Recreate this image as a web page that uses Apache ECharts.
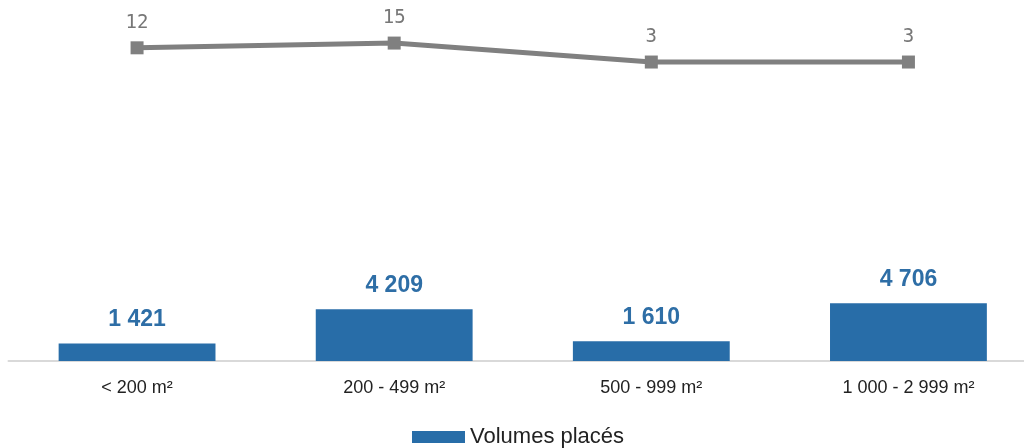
<!DOCTYPE html>
<html>
<head>
<meta charset="utf-8">
<script src="https://cdn.jsdelivr.net/npm/echarts@6/dist/echarts.min.js"></script>
<style>
  html, body { margin: 0; padding: 0; background: #fff; overflow: hidden; }
  #chart { width: 1037px; height: 448px; }
</style>
</head>
<body>
<div id="chart"></div>
<script>
const categories = ['< 200 m²', '200 - 499 m²', '500 - 999 m²', '1 000 - 2 999 m²']
const volumes = [1421, 4209, 1610, 4706]
const transactions = [12, 15, 3, 3]

const fmtSpace = v => String(v).replace(/\B(?=(\d{3})+(?!\d))/g, ' ')

// the plot area runs past the right edge of the window, so the chart div is a bit wider
const chart = echarts.init(document.getElementById('chart'))
chart.setOption({
  animation: false,
  grid: { left: 8.5, right: 0, top: 20, bottom: 87 },
  legend: {
    data: ['Volumes placés'],
    icon: 'rect',
    left: 412,
    top: 426,
    padding: 0,
    itemWidth: 53,
    itemHeight: 12,
    itemGap: 6,
    textStyle: { fontFamily: 'Liberation Sans', fontSize: 22, color: '#222' }
  },
  xAxis: {
    type: 'category',
    data: categories,
    axisLine: { lineStyle: { color: '#d9d9d9', width: 2 } },
    axisTick: { show: false },
    axisLabel: { fontFamily: 'Liberation Sans', fontSize: 18, color: '#222', margin: 18 }
  },
  yAxis: [
    { type: 'value', min: 0, max: 27790, show: false },
    { type: 'value', min: -186.2, max: 29.6, show: false }
  ],
  series: [
    {
      name: 'Volumes placés',
      type: 'bar',
      data: volumes,
      barWidth: '61%',
      itemStyle: { color: '#286da8' },
      label: {
        show: true,
        position: 'top',
        distance: 12,
        formatter: p => fmtSpace(p.value),
        fontFamily: 'Liberation Sans',
        fontWeight: 'bold',
        fontSize: 23,
        color: '#2e6ea6'
      }
    },
    {
      name: 'Transactions',
      type: 'line',
      yAxisIndex: 1,
      data: transactions,
      symbol: 'rect',
      symbolSize: 13,
      lineStyle: { color: '#808080', width: 5 },
      itemStyle: { color: '#808080' },
      label: {
        show: true,
        position: 'top',
        distance: 9,
        fontFamily: 'DejaVu Sans Mono',
        fontSize: 19,
        color: '#777'
      }
    }
  ]
})
</script>
</body>
</html>
